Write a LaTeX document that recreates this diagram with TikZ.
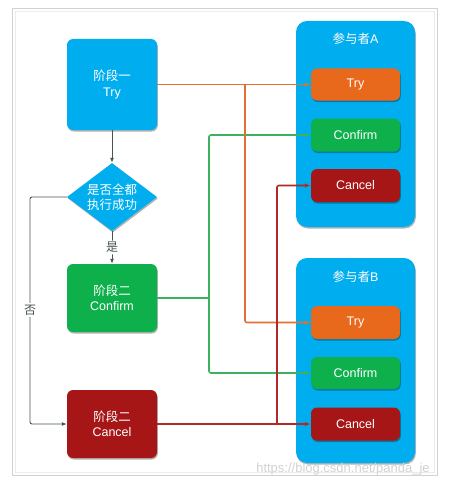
\documentclass[tikz,border=0pt]{standalone}
\usepackage{fontspec}
\setmainfont{Liberation Sans}
\newfontfamily\cjk{Noto Sans CJK SC}
\usetikzlibrary{shapes.geometric,shadows,arrows.meta}
\definecolor{cblue}{RGB}{0,174,239}
\definecolor{corange}{RGB}{232,104,28}
\definecolor{cgreen}{RGB}{14,176,76}
\definecolor{cred}{RGB}{166,22,22}
\definecolor{lorange}{RGB}{226,112,50}
\definecolor{lgreen}{RGB}{60,178,96}
\definecolor{lred}{RGB}{178,40,40}
\definecolor{cgray}{RGB}{70,84,84}
\begin{document}
\begin{tikzpicture}[x=1pt,y=-1pt,
 font=\fontsize{12.5}{15.5}\selectfont,
 shad/.style={drop shadow={shadow xshift=0.8pt,shadow yshift=-1.5pt,opacity=0.3,fill=black}},
 stagebox/.style={rounded corners=6pt, minimum width=90pt, text=white, align=center, inner sep=0pt, shad},
 partbox/.style={fill=cblue, rounded corners=11pt, minimum width=119pt, inner sep=0pt, shad},
 opbox/.style={rounded corners=6pt, minimum width=89pt, text=white, inner sep=0pt, shad},
 conn/.style={line width=1.6pt, rounded corners=2pt, -{Latex[length=6pt,width=4.5pt]}},
 plain/.style={line width=1.6pt},
 flow/.style={line width=0.9pt, draw=cgray, rounded corners=2pt, -{Latex[length=5pt,width=4pt]}},
 lbl/.style={fill=white, text=cgray, inner sep=1.5pt, font=\cjk\fontsize{12}{14}\selectfont}
]
\useasboundingbox (0,0) rectangle (458,487);
\fill[white] (0,0) rectangle (458,487);
% frame
\draw[gray!15, line width=1pt] (15,12) rectangle (434,472);
\draw[gray!35, line width=1pt] (12,9) rectangle (437,475);

% left column
\node[stagebox, fill=cblue, minimum height=91pt] (s1) at (112,84.5) {{\cjk 阶段一}\\Try};
\node[diamond, fill=cblue, aspect=1.32, minimum width=90pt, minimum height=68pt, inner sep=0pt, shad] (dec) at (112,197) {};
\node[text=white, align=center, inner sep=0pt, font=\cjk\fontsize{12.5}{15.5}\selectfont] (dectext) at (dec) {是否全都\\执行成功};
\node[stagebox, fill=cgreen, minimum height=68pt] (s2c) at (112,298) {{\cjk 阶段二}\\Confirm};
\node[stagebox, fill=cred, minimum height=68pt] (s2x) at (112,424) {{\cjk 阶段二}\\Cancel};

% participants
\node[partbox, minimum height=206pt] (pa) at (355.5,124) {};
\node[text=white] (pat) at (355.5,39) {{\cjk 参与者}A};
\node[opbox, fill=corange, minimum height=32pt] (atry) at (355.5,84.5) {Try};
\node[opbox, fill=cgreen, minimum height=33pt] (aconf) at (355.5,135) {Confirm};
\node[opbox, fill=cred, minimum height=33pt] (acan) at (355.5,185.5) {Cancel};

\node[partbox, minimum height=205pt] (pb) at (355.5,360.5) {};
\node[text=white] (pbt) at (355.5,277) {{\cjk 参与者}B};
\node[opbox, fill=corange, minimum height=33pt] (btry) at (355.5,322.5) {Try};
\node[opbox, fill=cgreen, minimum height=32pt] (bconf) at (355.5,373) {Confirm};
\node[opbox, fill=cred, minimum height=33pt] (bcan) at (355.5,424) {Cancel};

% flow arrows
\draw[flow] (s1.south) -- (dec.north);
\draw[flow] (dec.south) -- node[lbl] (yes) {是} (s2c.north);
\coordinate (nobend) at (30,197);
\draw[flow] (dec.west) -- (nobend) |- (s2x.west);
\node[lbl] (no) at (30,310) {否};

% green connectors
\coordinate (jg) at (209,298);
\draw[plain, lgreen] (s2c.east) -- (jg);
\draw[conn, lgreen] (jg) |- (aconf.west);
\draw[conn, lgreen] (jg) |- (bconf.west);
% orange connectors
\coordinate (jo) at (245,84.5);
\draw[conn, lorange] (s1.east) -- (s1.east -| atry.west);
\draw[conn, lorange] (jo) |- (btry.west);
% red connectors
\coordinate (jr) at (277,424);
\draw[conn, lred] (s2x.east) -- (s2x.east -| bcan.west);
\draw[conn, lred] (jr) |- (acan.west);

% watermark
\node[text=gray!35, font=\fontsize{13}{15}\selectfont] (wm) at (343,469) {https://blog.csdn.net/panda\_je};
\end{tikzpicture}
\end{document}
